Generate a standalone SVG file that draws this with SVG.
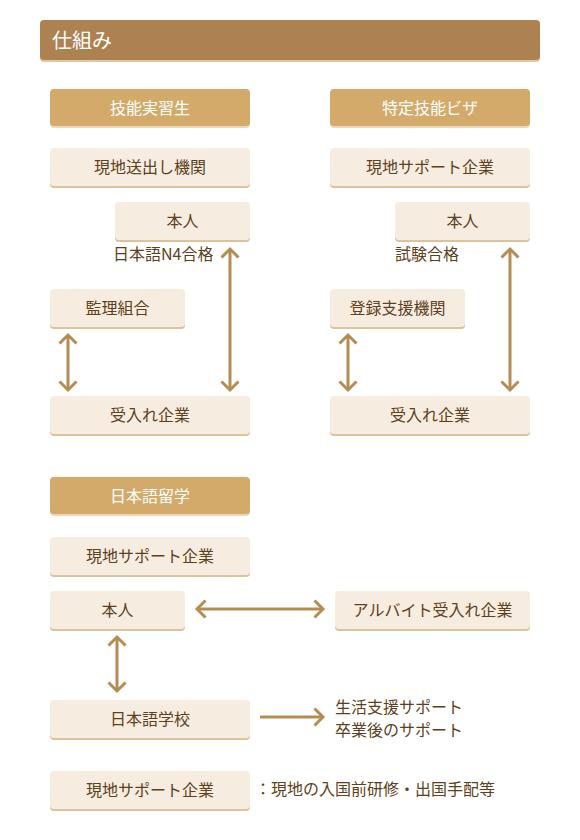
<svg xmlns="http://www.w3.org/2000/svg" width="580" height="840" viewBox="0 0 580 840">
<defs>
<style>
.sh{fill:#dcc39c}
.hsh{fill:#ecd8b8}
.box{fill:#f6ede0}
.hdr{fill:#d3aa6a}
.t{font-family:"Noto Sans CJK JP","Noto Sans",sans-serif;font-size:16px;fill:#5e3f20;text-anchor:middle;dominant-baseline:central}
.tl{font-family:"Noto Sans CJK JP","Noto Sans",sans-serif;font-size:16px;fill:#5e3f20;dominant-baseline:central}
.th{font-family:"Noto Sans CJK JP","Noto Sans",sans-serif;font-size:16px;fill:#ffffff;text-anchor:middle;dominant-baseline:central}
.ln{stroke:#b58d52;stroke-width:3;fill:none}
</style>
<marker id="ah" markerUnits="userSpaceOnUse" markerWidth="24" markerHeight="24" viewBox="-12 -12 24 24" refX="0" refY="0" orient="auto-start-reverse">
<path d="M-8.5 -8.5 L0 0 L-8.5 8.5" fill="none" stroke="#b58d52" stroke-width="3"/>
</marker>
</defs>
<rect width="580" height="840" fill="#ffffff"/>

<g id="title">
<rect x="40" y="22" width="500" height="40" rx="4" fill="#e0c7a6"/>
<rect x="40" y="20" width="500" height="40" rx="4" fill="#ae8150"/>
<text x="52" y="39.5" style="font-family:'Noto Sans CJK JP','Noto Sans',sans-serif;font-size:20px;fill:#ffffff;dominant-baseline:central">仕組み</text>
</g>

<!-- 技能実習生 column -->
<g id="h1"><rect class="hsh" x="50" y="91" width="200" height="37" rx="4"/><rect class="hdr" x="50" y="89" width="200" height="37" rx="4"/><text class="th" x="150" y="106.5">技能実習生</text></g>
<g id="n1"><rect class="sh" x="50" y="150" width="200" height="38" rx="4"/><rect class="box" x="50" y="148" width="200" height="38" rx="4"/><text class="t" x="150" y="166">現地送出し機関</text></g>
<g id="n2"><rect class="sh" x="115" y="204" width="135" height="38" rx="4"/><rect class="box" x="115" y="202" width="135" height="38" rx="4"/><text class="t" x="182.5" y="220">本人</text></g>
<g id="l1"><text class="tl" x="113" y="253">日本語N4合格</text></g>
<g id="n3"><rect class="sh" x="50" y="291" width="135" height="38" rx="4"/><rect class="box" x="50" y="289" width="135" height="38" rx="4"/><text class="t" x="117.5" y="307">監理組合</text></g>
<g id="n4"><rect class="sh" x="50" y="398" width="200" height="38" rx="4"/><rect class="box" x="50" y="396" width="200" height="38" rx="4"/><text class="t" x="150" y="414">受入れ企業</text></g>

<!-- 特定技能ビザ column -->
<g id="h2"><rect class="hsh" x="330" y="91" width="200" height="37" rx="4"/><rect class="hdr" x="330" y="89" width="200" height="37" rx="4"/><text class="th" x="430" y="106.5">特定技能ビザ</text></g>
<g id="n5"><rect class="sh" x="330" y="150" width="200" height="38" rx="4"/><rect class="box" x="330" y="148" width="200" height="38" rx="4"/><text class="t" x="430" y="166">現地サポート企業</text></g>
<g id="n6"><rect class="sh" x="395" y="204" width="135" height="38" rx="4"/><rect class="box" x="395" y="202" width="135" height="38" rx="4"/><text class="t" x="462.5" y="220">本人</text></g>
<g id="l2"><text class="tl" x="395" y="253">試験合格</text></g>
<g id="n7"><rect class="sh" x="330" y="291" width="135" height="38" rx="4"/><rect class="box" x="330" y="289" width="135" height="38" rx="4"/><text class="t" x="397.5" y="307">登録支援機関</text></g>
<g id="n8"><rect class="sh" x="330" y="398" width="200" height="38" rx="4"/><rect class="box" x="330" y="396" width="200" height="38" rx="4"/><text class="t" x="430" y="414">受入れ企業</text></g>

<!-- 日本語留学 -->
<g id="h3"><rect class="hsh" x="50" y="479" width="200" height="37" rx="4"/><rect class="hdr" x="50" y="477" width="200" height="37" rx="4"/><text class="th" x="150" y="494.5">日本語留学</text></g>
<g id="n9"><rect class="sh" x="50" y="539" width="200" height="38" rx="4"/><rect class="box" x="50" y="537" width="200" height="38" rx="4"/><text class="t" x="150" y="555">現地サポート企業</text></g>
<g id="n10"><rect class="sh" x="50" y="593" width="135" height="38" rx="4"/><rect class="box" x="50" y="591" width="135" height="38" rx="4"/><text class="t" x="117.5" y="609">本人</text></g>
<g id="n11"><rect class="sh" x="335" y="593" width="195" height="38" rx="4"/><rect class="box" x="335" y="591" width="195" height="38" rx="4"/><text class="t" x="432.5" y="609">アルバイト受入れ企業</text></g>
<g id="n12"><rect class="sh" x="50" y="702" width="200" height="38" rx="4"/><rect class="box" x="50" y="700" width="200" height="38" rx="4"/><text class="t" x="150" y="718">日本語学校</text></g>
<g id="l3"><text class="tl" x="335" y="706">生活支援サポート</text><text class="tl" x="335" y="729">卒業後のサポート</text></g>
<g id="n13"><rect class="sh" x="50" y="773" width="200" height="38" rx="4"/><rect class="box" x="50" y="771" width="200" height="38" rx="4"/><text class="t" x="150" y="789">現地サポート企業</text></g>
<g id="l4"><text class="tl" x="255" y="788">：現地の入国前研修・出国手配等</text></g>

<g id="connectors">
<line class="ln" x1="230" y1="249" x2="230" y2="390" marker-start="url(#ah)" marker-end="url(#ah)"/>
<line class="ln" x1="68" y1="335" x2="68" y2="390" marker-start="url(#ah)" marker-end="url(#ah)"/>
<line class="ln" x1="510" y1="249" x2="510" y2="390" marker-start="url(#ah)" marker-end="url(#ah)"/>
<line class="ln" x1="348" y1="335" x2="348" y2="390" marker-start="url(#ah)" marker-end="url(#ah)"/>
<line class="ln" x1="197" y1="609" x2="323" y2="609" marker-start="url(#ah)" marker-end="url(#ah)"/>
<line class="ln" x1="117" y1="637" x2="117" y2="691" marker-start="url(#ah)" marker-end="url(#ah)"/>
<line class="ln" x1="260" y1="717" x2="323" y2="717" marker-end="url(#ah)"/>
</g>
</svg>
